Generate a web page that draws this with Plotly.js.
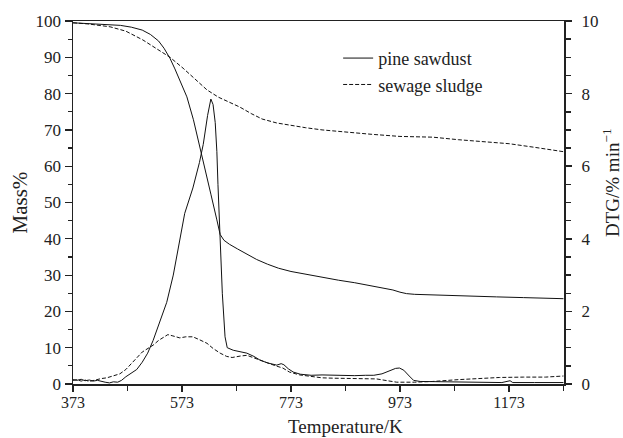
<!DOCTYPE html>
<html>
<head>
<meta charset="utf-8">
<script src="https://cdn.plot.ly/plotly-3.0.1.min.js"></script>
<style>html,body{margin:0;padding:0;background:#fff;}#chart{width:623px;height:438px;}</style>
</head>
<body>
<div id="chart"></div>
<script>
// Pine sawdust TG (Mass%)
const pineTG_T = [373,400,430,460,480,500,515,530,540,551,560,570,582,594,606,616,626,637,643,650,660,675,690,710,730,750,773,800,830,860,890,920,945,960,973,985,1000,1050,1100,1150,1200,1250,1273];
const pineTG_M = [99.5,99.3,99.1,98.8,98.3,97.5,96.3,94.5,92.5,89.7,86.8,83.5,79.1,72.8,65.4,59.0,52.3,45.2,41.2,39.6,38.5,37.2,35.9,34.3,33.0,31.9,31.0,30.2,29.3,28.6,27.9,27.1,26.4,25.9,25.3,24.9,24.7,24.4,24.2,24.0,23.8,23.6,23.5];
// Sewage sludge TG (Mass%)
const sludgeTG_T = [373,400,441,470,501,525,551,575,600,619,640,660,679,700,720,747,773,800,830,870,920,973,1033,1080,1130,1173,1220,1273];
const sludgeTG_M = [99.5,99.2,98.4,97.2,94.8,92.5,90.0,87.0,83.5,81.0,79.0,77.7,76.3,74.5,73.0,71.9,71.2,70.6,70.0,69.4,68.8,68.2,68.0,67.3,66.7,66.2,65.2,64.0];
// Pine sawdust DTG (%/min)
const pineDTG_T = [373,380,388,395,403,410,418,425,432,440,447,455,462,470,480,490,500,510,520,532,545,557,569,578,593,605,612,620,626,630,634,637,639,641,643,647,652,656,667,680,692,705,716,730,747,755,760,768,777,790,810,830,850,870,890,910,925,940,955,965,972,980,990,998,1010,1040,1080,1120,1160,1175,1180,1220,1273];
const pineDTG_D = [0.12,0.10,0.13,0.09,0.11,0.08,0.10,0.07,0.05,0.03,0.06,0.05,0.10,0.20,0.30,0.40,0.60,0.85,1.20,1.70,2.25,3.00,3.95,4.70,5.40,6.10,6.60,7.40,7.85,7.70,7.20,6.40,5.50,4.70,4.00,2.50,1.30,1.00,0.93,0.88,0.85,0.76,0.66,0.58,0.52,0.56,0.53,0.42,0.33,0.27,0.24,0.25,0.24,0.25,0.23,0.24,0.24,0.28,0.37,0.43,0.44,0.38,0.22,0.10,0.07,0.06,0.05,0.04,0.04,0.09,0.04,0.04,0.04];
// Sewage sludge DTG (%/min)
const sludgeDTG_T = [373,380,388,395,403,410,418,425,435,445,459,470,480,490,500,510,520,530,540,547,555,569,580,593,605,619,630,643,655,665,680,692,705,729,745,758,770,789,810,830,850,880,910,930,950,967,1000,1033,1080,1120,1156,1200,1240,1273];
const sludgeDTG_D = [0.10,0.12,0.08,0.11,0.07,0.10,0.12,0.15,0.17,0.22,0.28,0.40,0.55,0.72,0.88,0.98,1.07,1.20,1.30,1.36,1.33,1.27,1.30,1.30,1.22,1.12,0.98,0.85,0.76,0.73,0.77,0.79,0.72,0.58,0.50,0.44,0.33,0.25,0.20,0.17,0.16,0.15,0.15,0.14,0.09,0.05,0.05,0.07,0.12,0.15,0.18,0.19,0.19,0.22];

const seriesNames = ['pine sawdust','sewage sludge'];
const xTickVals = [373,573,773,973,1173];
const titles = {x:'Temperature/K', y:'Mass%', y2:'DTG/% min<sup>\u22121</sup>'};

const solid = {color:'#111', width:1};
const dashed = {color:'#111', width:1, dash:'4px,2px'};

const traces = [
  {x:pineTG_T, y:pineTG_M, type:'scatter', mode:'lines', line:solid, name:seriesNames[0], legendgroup:'a'},
  {x:sludgeTG_T, y:sludgeTG_M, type:'scatter', mode:'lines', line:dashed, name:seriesNames[1], legendgroup:'b'},
  {x:pineDTG_T, y:pineDTG_D, type:'scatter', mode:'lines', line:solid, name:seriesNames[0], yaxis:'y2', showlegend:false, legendgroup:'a'},
  {x:sludgeDTG_T, y:sludgeDTG_D, type:'scatter', mode:'lines', line:dashed, name:seriesNames[1], yaxis:'y2', showlegend:false, legendgroup:'b'}
];

const fam = '"Liberation Serif", "DejaVu Serif", serif';
const ink = '#222';

const layout = {
  width:623, height:438,
  margin:{l:73, r:59, t:21, b:54},
  paper_bgcolor:'#fff', plot_bgcolor:'#fff',
  font:{family:fam, size:17, color:ink},
  showlegend:true,
  legend:{x:0.54, y:0.948, xanchor:'left', yanchor:'top', bgcolor:'rgba(0,0,0,0)', font:{family:fam, size:18, color:ink}, tracegroupgap:0},
  xaxis:{
    range:[373,1274], tickmode:'array', tickvals:xTickVals, ticktext:xTickVals.map(String),
    ticks:'outside', ticklen:6, tickwidth:1.2, tickcolor:ink, ticklabelstandoff:-3,
    tickfont:{family:fam, size:16, color:ink},
    minor:{tickvals:[473,673,873,1073,1273], ticks:'outside', ticklen:5, tickcolor:ink, tickwidth:1.2},
    showline:true, linecolor:ink, linewidth:1.5, mirror:true,
    showgrid:false, zeroline:false
  },
  yaxis:{
    range:[0,100], tickmode:'linear', tick0:0, dtick:10,
    ticks:'outside', ticklen:7, tickwidth:1.2, tickcolor:ink,
    minor:{dtick:5, ticks:'outside', ticklen:4, tickcolor:ink, tickwidth:1.2},
    showline:true, linecolor:ink, linewidth:1.5,
    showgrid:false, zeroline:false
  },
  yaxis2:{
    range:[0,10], overlaying:'y', side:'right', tickmode:'linear', tick0:0, dtick:2,
    ticks:'outside', ticklen:6, tickwidth:1.5, tickcolor:ink, ticklabelstandoff:6,
    minor:{dtick:0.5, ticks:'outside', ticklen:5, tickcolor:ink, tickwidth:1.5},
    showline:true, linecolor:ink, linewidth:2,
    showgrid:false, zeroline:false
  },
  annotations:[
    {text:titles.x, xref:'paper', yref:'paper', x:0.554, y:-0.117, xanchor:'center', yanchor:'middle', showarrow:false, font:{family:fam, size:19, color:ink}},
    {text:titles.y, xref:'paper', yref:'paper', x:-0.108, y:0.5, xanchor:'center', yanchor:'middle', textangle:-90, showarrow:false, font:{family:fam, size:21, color:ink}},
    {text:titles.y2, xref:'paper', yref:'paper', x:1.096, y:0.554, xanchor:'center', yanchor:'middle', textangle:-90, showarrow:false, font:{family:fam, size:19, color:ink}}
  ]
};

Plotly.newPlot('chart', traces, layout, {displayModeBar:false, staticPlot:true});
</script>
</body>
</html>
